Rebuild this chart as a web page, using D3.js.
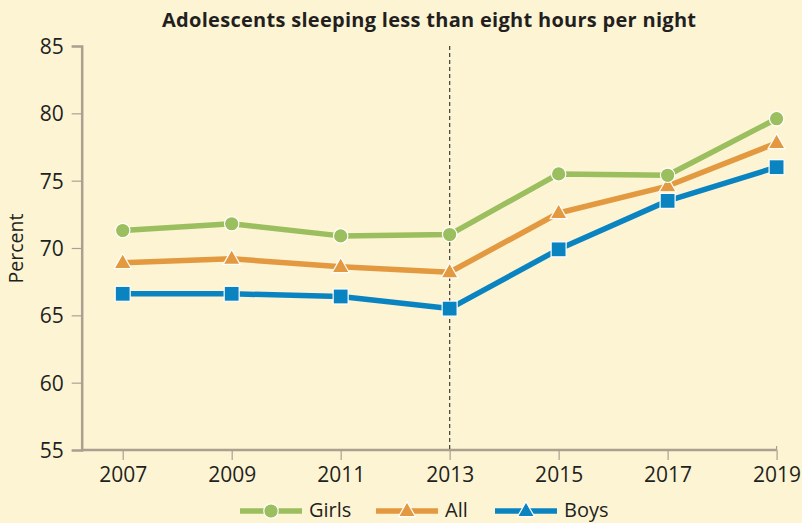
<!DOCTYPE html>
<html><head><meta charset="utf-8">
<script src="https://cdn.jsdelivr.net/npm/d3@7"></script>
<style>
html,body{margin:0;padding:0;background:#fdf4d4;}
svg{display:block;}
text{font-family:"Open Sans",sans-serif;fill:#231f20;}
</style></head><body>
<script>
const years = [2007, 2009, 2011, 2013, 2015, 2017, 2019];
const girls = [71.3, 71.8, 70.9, 71.0, 75.5, 75.4, 79.6];
const all   = [68.9, 69.2, 68.6, 68.2, 72.6, 74.6, 77.8];
const boys  = [66.6, 66.6, 66.4, 65.5, 69.9, 73.5, 76.0];
const yTicks = [55, 60, 65, 70, 75, 80, 85];
const seriesNames = ["Girls", "All", "Boys"];
const colors = ["#9bbe5e", "#e3993f", "#0a84c1"];
const markerTypes = ["circle", "triangle", "square"];
const legendMarkers = ["circle", "triangle", "triangle"];
const title = "Adolescents sleeping less than eight hours per night";
const yLabel = "Percent";
const cutYear = 2013;

const W = 802, H = 523;
const svg = d3.select("body").append("svg").attr("width", W).attr("height", H);
svg.append("rect").attr("width", W).attr("height", H).attr("fill", "#fdf4d4");

const x = d3.scaleLinear().domain([2007, 2019]).range([122.7, 776.6]);
const y = d3.scaleLinear().domain([55, 85]).range([450, 46]);
const axisX0 = 81.7;
const axisColor = "#aaa08f";

// title
svg.append("text").attr("x", 429).attr("y", 26.5).attr("text-anchor", "middle")
  .attr("textLength", 534).attr("lengthAdjust", "spacing")
  .style("font-weight", "700").style("font-size", "20px").text(title);

// y axis
const ya = svg.append("g").attr("transform", `translate(${axisX0},0)`)
  .call(d3.axisLeft(y).tickValues(yTicks).tickSize(10).tickPadding(8));
ya.select(".domain").attr("stroke", axisColor).attr("stroke-width", 2.5);
ya.selectAll(".tick line").attr("stroke", axisColor).attr("stroke-width", 1.2);
ya.selectAll(".tick text").style("font-size", "21px").style("fill", "#231f20")
  .style("font-family", "'Open Sans',sans-serif").attr("dy", "0.36em");

// x axis
const xa = svg.append("g").attr("transform", `translate(0,${y(55)})`)
  .call(d3.axisBottom(x).tickValues(years).tickFormat(d3.format("d")).tickSize(10).tickPadding(6));
xa.select(".domain").remove();
xa.append("line").attr("x1", axisX0).attr("x2", x(2019)).attr("y1", 0).attr("y2", 0)
  .attr("stroke", axisColor).attr("stroke-width", 2.5);
xa.append("line").attr("x1", x(2019)).attr("x2", x(2019)).attr("y1", 0).attr("y2", -4)
  .attr("stroke", axisColor).attr("stroke-width", 1.2);
xa.selectAll(".tick line").attr("stroke", axisColor).attr("stroke-width", 1.2);
xa.selectAll(".tick text").style("font-size", "21px").style("fill", "#231f20")
  .style("font-family", "'Open Sans',sans-serif").attr("y", 31.5).attr("dy", 0);

// y label
svg.append("text").attr("transform", `translate(23,248.5) rotate(-90)`)
  .attr("text-anchor", "middle").style("font-size", "19.5px").text(yLabel);

// dashed line
svg.append("line").attr("x1", x(cutYear)).attr("x2", x(cutYear)).attr("y1", y(85)).attr("y2", y(55))
  .attr("stroke", "#4d4a45").attr("stroke-width", 1.3).attr("stroke-dasharray", "4,3");

function marker(g, type, cx, cy, color) {
  if (type === "circle") {
    g.append("circle").attr("cx", cx).attr("cy", cy).attr("r", 7.2)
      .attr("fill", color).attr("stroke", "#fff").attr("stroke-width", 1.2);
  } else if (type === "square") {
    g.append("rect").attr("x", cx - 7.5).attr("y", cy - 7.5).attr("width", 15).attr("height", 15)
      .attr("fill", color).attr("stroke", "#fff").attr("stroke-width", 1.2);
  } else {
    const s = 17, h = 15;
    g.append("path").attr("d", `M${cx},${cy - h*0.62}L${cx + s/2},${cy + h*0.38}L${cx - s/2},${cy + h*0.38}Z`)
      .attr("fill", color).attr("stroke", "#fff").attr("stroke-width", 1.2);
  }
}

const data = [girls, all, boys];
const line = d3.line().x((d, i) => x(years[i])).y(d => y(d));
[2, 1, 0].forEach(k => {
  const g = svg.append("g");
  g.append("path").datum(data[k]).attr("d", line).attr("fill", "none")
    .attr("stroke", colors[k]).attr("stroke-width", 5.5).attr("stroke-linejoin", "round");
});
[2, 1, 0].forEach(k => {
  const g = svg.append("g");
  data[k].forEach((v, i) => marker(g, markerTypes[k], x(years[i]), y(v), colors[k]));
});

// legend
const legX = [240, 376, 495];
const legY = 511;
seriesNames.forEach((n, k) => {
  const g = svg.append("g");
  g.append("line").attr("x1", legX[k]).attr("x2", legX[k] + 62).attr("y1", legY).attr("y2", legY)
    .attr("stroke", colors[k]).attr("stroke-width", 5.5);
  marker(g, legendMarkers[k], legX[k] + 31, legY, colors[k]);
  g.append("text").attr("x", legX[k] + 69).attr("y", legY + 6).style("font-size", "20px").text(n);
});
</script>
</body></html>
